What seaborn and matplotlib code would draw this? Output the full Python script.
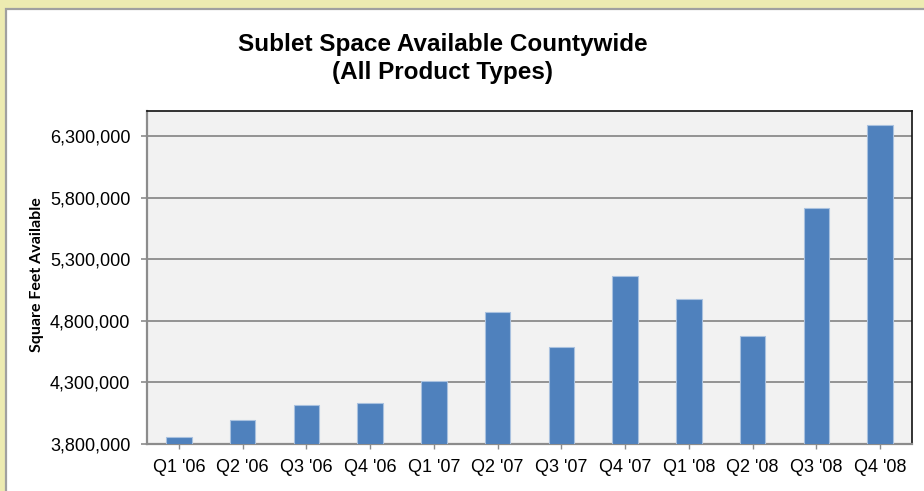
import matplotlib
matplotlib.use("Agg")
import matplotlib.pyplot as plt
import matplotlib.ticker as mticker
from matplotlib.patches import Rectangle
import seaborn as sns
import pandas as pd

quarters = ["Q1 '06", "Q2 '06", "Q3 '06", "Q4 '06", "Q1 '07", "Q2 '07",
            "Q3 '07", "Q4 '07", "Q1 '08", "Q2 '08", "Q3 '08", "Q4 '08"]
sublet_sqft = [3855000, 3998000, 4119000, 4135000, 4316000, 4870000,
               4591000, 5168000, 4979000, 4678000, 5721000, 6393000]
y_ticks = [3800000, 4300000, 4800000, 5300000, 5800000, 6300000]

df = pd.DataFrame({"Quarter": quarters, "Sqft": sublet_sqft})

sns.set_theme(style="white")
plt.rcParams['font.family'] = ['Liberation Sans', 'DejaVu Sans']
plt.rcParams['text.color'] = 'black'

W, H = 924, 491
fig = plt.figure(figsize=(W / 100, H / 100), dpi=100)
fig.patch.set_facecolor('#EDEBB1')

# white chart area with gray border
bg = Rectangle((6 / W, -0.05), 1.05, (H - 9) / H + 0.05,
               transform=fig.transFigure, facecolor='white',
               edgecolor='#A0A0A0', linewidth=1.6, zorder=-5)
fig.patches.append(bg)

ax = fig.add_axes([147 / W, (H - 444) / H, (912 - 147) / W, (444 - 111) / H])
ax.set_zorder(2)
ax.set_facecolor('#F2F2F2')

sns.barplot(data=df, x="Quarter", y="Sqft", color='#4F81BD', width=0.4,
            saturation=1, edgecolor='#A9C1DF', linewidth=0.8, ax=ax, zorder=3)

ax.set_ylim(3800000, 6507000)
ax.set_xlim(-0.5, len(quarters) - 0.5)
ax.set_yticks(y_ticks)
ax.yaxis.set_major_formatter(mticker.FuncFormatter(lambda v, p: f"{int(v):,}"))
ax.grid(axis='y', color='#8C8C8C', linewidth=1.3, zorder=1)
ax.set_axisbelow(True)

for side in ['left', 'bottom']:
    ax.spines[side].set_color('#8C8C8C')
    ax.spines[side].set_linewidth(1.6)
for side in ['top', 'right']:
    ax.spines[side].set_color('#111111')
    ax.spines[side].set_linewidth(1.2)

ax.tick_params(axis='y', which='major', left=True, direction='out', length=4,
               width=1.2, color='#8C8C8C', labelsize=13, pad=8, labelcolor='black')
ax.tick_params(axis='x', which='major', bottom=True, direction='inout', length=7,
               width=1.0, color='#8C8C8C', labelsize=13, pad=7, labelcolor='black')

ax.set_xlabel("")
ax.set_ylabel("Square Feet Available", fontsize=11.5, fontweight='bold',
              family=['Lato', 'DejaVu Sans'], color='black')
ax.yaxis.set_label_coords(44 / W, (H - 275) / H, transform=fig.transFigure)

fig.text(443 / W, (H - 45) / H, "Sublet Space Available Countywide",
         ha='center', va='center', fontsize=17.5, fontweight='bold', color='black')
fig.text(443 / W, (H - 73) / H, "(All Product Types)",
         ha='center', va='center', fontsize=17.5, fontweight='bold', color='black')

fig.savefig("out.png", dpi=100, facecolor=fig.get_facecolor())
